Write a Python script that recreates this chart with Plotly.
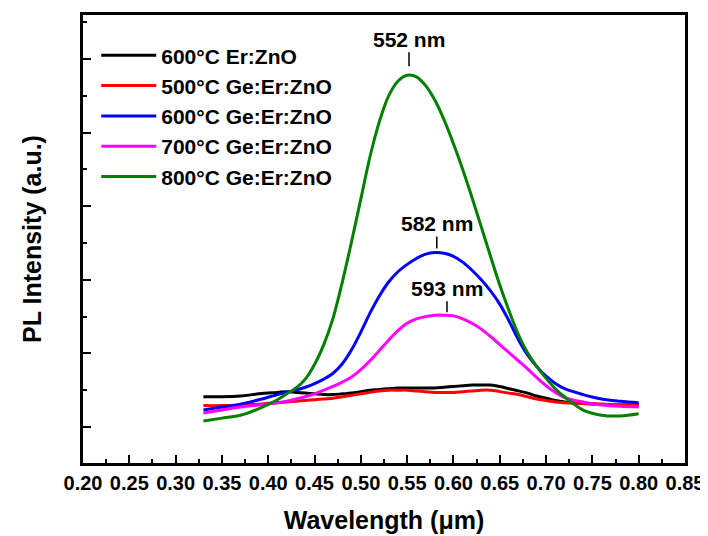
import plotly.graph_objects as go

wavelength = [0.33, 0.35, 0.37, 0.39, 0.41,
              0.42, 0.43, 0.44, 0.45, 0.46, 0.47, 0.48, 0.49, 0.50, 0.51, 0.52,
              0.53, 0.54, 0.55, 0.56, 0.57, 0.58, 0.59, 0.60, 0.61, 0.62, 0.63,
              0.64, 0.65, 0.66, 0.67, 0.68, 0.69, 0.70, 0.71, 0.72,
              0.74, 0.76, 0.78, 0.80]

er_zno_600 = [0.41, 0.41, 0.42, 0.45, 0.47,
              0.48, 0.47, 0.46, 0.45, 0.44, 0.44, 0.45, 0.46, 0.48, 0.50, 0.51,
              0.52, 0.53, 0.53, 0.53, 0.53, 0.53, 0.54, 0.55, 0.56, 0.57, 0.57,
              0.57, 0.55, 0.52, 0.49, 0.46, 0.42, 0.39, 0.36, 0.34,
              0.32, 0.31, 0.30, 0.30]
ge_500 = [0.29, 0.29, 0.30, 0.31, 0.33,
          0.34, 0.35, 0.36, 0.37, 0.38, 0.39, 0.41, 0.43, 0.45, 0.47, 0.49,
          0.50, 0.50, 0.50, 0.49, 0.48, 0.47, 0.47, 0.47, 0.48, 0.49, 0.50,
          0.50, 0.48, 0.46, 0.44, 0.41, 0.38, 0.36, 0.34, 0.33,
          0.32, 0.31, 0.30, 0.30]
ge_600 = [0.23, 0.27, 0.31, 0.37, 0.44,
          0.47, 0.50, 0.54, 0.59, 0.65, 0.73, 0.86, 1.05, 1.29, 1.55, 1.78,
          1.97, 2.11, 2.21, 2.29, 2.35, 2.37, 2.36, 2.32, 2.24, 2.13, 2.00,
          1.85, 1.67, 1.44, 1.19, 0.98, 0.82, 0.69, 0.59, 0.52,
          0.44, 0.38, 0.35, 0.33]
ge_700 = [0.19, 0.23, 0.27, 0.30, 0.33,
          0.35, 0.38, 0.41, 0.45, 0.50, 0.55, 0.61, 0.68, 0.78, 0.90, 1.04,
          1.18, 1.31, 1.41, 1.47, 1.50, 1.52, 1.52, 1.51, 1.47, 1.41, 1.33,
          1.23, 1.12, 1.01, 0.90, 0.79, 0.67, 0.56, 0.47, 0.40,
          0.34, 0.30, 0.28, 0.27]
ge_800 = [0.08, 0.12, 0.16, 0.25, 0.37,
          0.45, 0.53, 0.65, 0.85, 1.12, 1.48, 1.97, 2.52, 3.10, 3.68, 4.15,
          4.50, 4.70, 4.78, 4.76, 4.64, 4.44, 4.17, 3.85, 3.50, 3.12, 2.72,
          2.32, 1.93, 1.58, 1.26, 1.01, 0.82, 0.66, 0.52, 0.41,
          0.23, 0.16, 0.15, 0.18]

series_names = ["600°C Er:ZnO", "500°C Ge:Er:ZnO", "600°C Ge:Er:ZnO",
                "700°C Ge:Er:ZnO", "800°C Ge:Er:ZnO"]
series_values = [er_zno_600, ge_500, ge_600, ge_700, ge_800]
series_colors = ["#000000", "#ff0000", "#0000ff", "#ff00ff", "#008000"]

peak_labels = ["552 nm", "582 nm", "593 nm"]
peak_x = [0.552, 0.582, 0.593]
peak_y = [4.78, 2.37, 1.52]
peak_ay = [-36, -29, -27]
peak_standoff = [9, 4, 3]

FONT = "Liberation Sans, Arial, sans-serif"

fig = go.Figure()
for name, vals, col in zip(series_names, series_values, series_colors):
    fig.add_trace(go.Scatter(x=wavelength, y=vals, mode="lines", name=name,
                             line=dict(color=col, width=3, shape="spline", smoothing=1.0)))

for lab, px, py, ay, so in zip(peak_labels, peak_x, peak_y, peak_ay, peak_standoff):
    fig.add_annotation(x=px, y=py, text=lab, showarrow=True, arrowhead=0, arrowwidth=1.5,
                       arrowcolor="black", ax=0, ay=ay, standoff=so,
                       font=dict(family=FONT, size=21, color="black", weight="bold"))

# page body has an 8px margin, so the figure is sized/offset to fill the 708x536 window
fig.update_layout(
    width=700, height=528,
    margin=dict(l=75, r=23, t=7, b=73),
    paper_bgcolor="white", plot_bgcolor="white",
    font=dict(family=FONT, color="black"),
    legend=dict(x=0.022, y=0.955, xanchor="left", yanchor="top", itemwidth=55,
                font=dict(family=FONT, size=21, color="black", weight="bold"),
                bgcolor="rgba(0,0,0,0)"),
    showlegend=True,
)
fig.update_xaxes(range=[0.2, 0.85], dtick=0.05, tick0=0.2, tickformat=".2f",
                 ticks="inside", ticklen=8, tickwidth=2, tickcolor="black",
                 minor=dict(dtick=0.025, ticks="inside", ticklen=4, tickwidth=2, tickcolor="black"),
                 showline=True, linewidth=2.5, linecolor="black", mirror=True,
                 showgrid=False, zeroline=False, automargin=False,
                 tickfont=dict(family=FONT, size=20, color="black", weight="bold"),
                 title=dict(text="Wavelength (μm)", standoff=19,
                            font=dict(family=FONT, size=25, color="black", weight="bold")))
fig.update_yaxes(range=[-0.49, 5.6], dtick=1, tick0=0, showticklabels=False,
                 ticks="inside", ticklen=8, tickwidth=2, tickcolor="black",
                 minor=dict(dtick=0.5, ticks="inside", ticklen=4, tickwidth=2, tickcolor="black"),
                 showline=True, linewidth=2.5, linecolor="black", mirror=True,
                 showgrid=False, zeroline=False, automargin=False,
                 title=dict(text="PL Intensity (a.u.)", standoff=32,
                            font=dict(family=FONT, size=25, color="black", weight="bold")))

fig.write_html("out.html")
